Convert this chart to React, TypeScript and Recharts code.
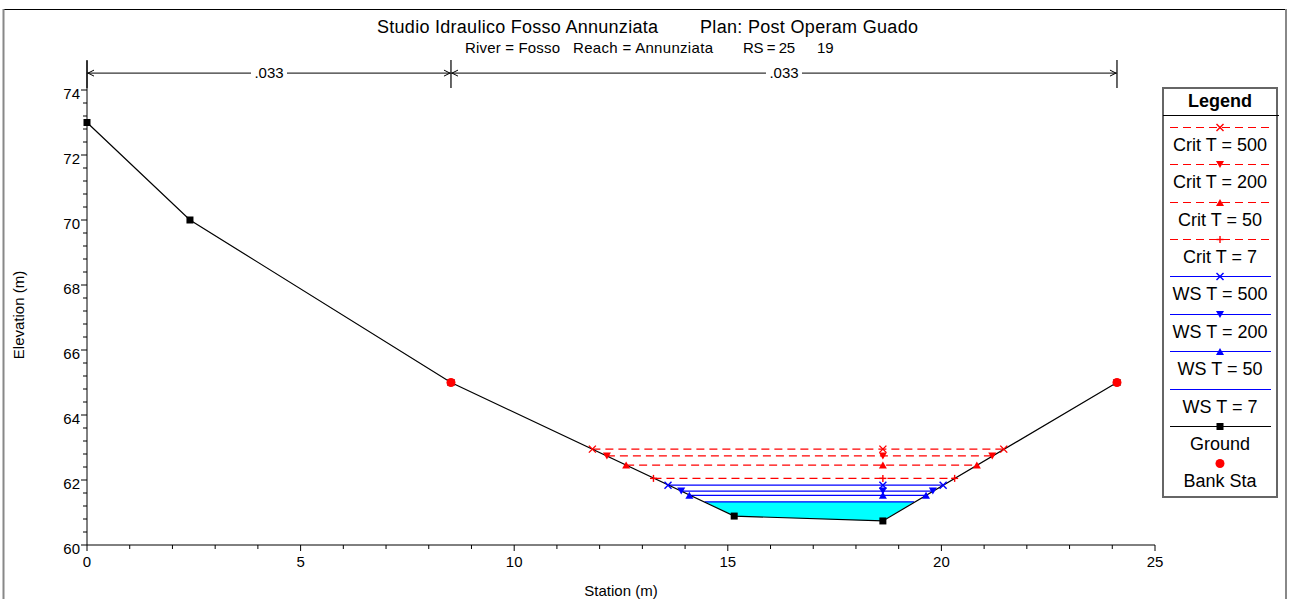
import React from 'react';
import { ComposedChart, Line, Area, XAxis, YAxis, ReferenceLine } from 'recharts';

// ground profile (station m, elevation m)
const groundStation = [0, 2.41, 8.52, 15.15, 18.63, 24.11];
const groundElevation = [73.0, 70.0, 65.0, 60.89, 60.74, 65.0];
const bankStation = [8.52, 24.11];
const bankElevation = [65.0, 65.0];

// water surface profiles
const profileNames = ['Crit T = 500', 'Crit T = 200', 'Crit T = 50', 'Crit T = 7', 'WS T = 500', 'WS T = 200', 'WS T = 50', 'WS T = 7'];
const profileElevation = [62.95, 62.74, 62.46, 62.05, 61.84, 61.66, 61.53, 61.33];
const profileLeft = [11.83, 12.17, 12.62, 13.26, 13.6, 13.91, 14.1, 14.46];
const profileRight = [21.46, 21.19, 20.83, 20.31, 20.04, 19.8, 19.64, 19.36];
const profileMarker = ['x', 'down', 'up', 'plus', 'x', 'down', 'up', 'none'];
const profileIsCrit = [true, true, true, true, false, false, false, false];
const profileMidStation = 18.63;

// manning n values along top
const nLabels = ['.033', '.033'];
const nBreaks = [0, 8.52, 24.11];

const xMajorTicks = [0, 5, 10, 15, 20, 25];
const yMajorTicks = [60, 62, 64, 66, 68, 70, 72, 74];

const xTicks = Array.from({ length: 26 }, (_, i) => i);
const yTicks = Array.from({ length: 36 }, (_, i) => Math.round((60 + i * 0.4) * 10) / 10);

const RED = '#ff0000';
const BLUE = '#0000ff';
const CYAN = '#00ffff';
const FONT = '"Liberation Sans", Arial, sans-serif';

const PLOT_LEFT = 87;
const PLOT_BOTTOM = 545;

const groundData = groundStation.map((x, i) => ({ x, y: groundElevation[i] }));
const bankData = bankStation.map((x, i) => ({ x, y: bankElevation[i] }));

const wsIdx = 7;
const wetData = [
  { x: profileLeft[wsIdx], range: [profileElevation[wsIdx], profileElevation[wsIdx]] },
  ...groundStation
    .map((x, i) => ({ x, range: [groundElevation[i], profileElevation[wsIdx]] }))
    .filter((d) => d.x > profileLeft[wsIdx] && d.x < profileRight[wsIdx]),
  { x: profileRight[wsIdx], range: [profileElevation[wsIdx], profileElevation[wsIdx]] },
];

function Marker({ kind, cx, cy, color }: any) {
  const s = 3.5;
  if (kind === 'x')
    return (
      <g stroke={color} strokeWidth={1.4}>
        <line x1={cx - s} y1={cy - s} x2={cx + s} y2={cy + s} />
        <line x1={cx - s} y1={cy + s} x2={cx + s} y2={cy - s} />
      </g>
    );
  if (kind === 'plus')
    return (
      <g stroke={color} strokeWidth={1.4}>
        <line x1={cx - s} y1={cy} x2={cx + s} y2={cy} />
        <line x1={cx} y1={cy - s} x2={cx} y2={cy + s} />
      </g>
    );
  if (kind === 'down')
    return <polygon points={`${cx - 4},${cy - 3.5} ${cx + 4},${cy - 3.5} ${cx},${cy + 3.5}`} fill={color} />;
  if (kind === 'up')
    return <polygon points={`${cx - 4},${cy + 3.5} ${cx + 4},${cy + 3.5} ${cx},${cy - 3.5}`} fill={color} />;
  if (kind === 'square') return <rect x={cx - 3.5} y={cy - 3.5} width={7} height={7} fill={color} />;
  if (kind === 'circle') return <circle cx={cx} cy={cy} r={4.5} fill={color} />;
  return <g />;
}

const XTick = (p: any) => {
  const v = p.payload.value;
  const major = xMajorTicks.includes(v);
  return (
    <g>
      <line x1={p.x} y1={PLOT_BOTTOM} x2={p.x} y2={PLOT_BOTTOM + (major ? 6 : 4)} stroke="#000" />
      {major && (
        <text x={p.x} y={PLOT_BOTTOM + 22} textAnchor="middle" fontSize={15} fill="#000" fontFamily={FONT}>
          {v}
        </text>
      )}
    </g>
  );
};

const YTick = (p: any) => {
  const v = p.payload.value;
  const major = yMajorTicks.includes(v);
  return (
    <g>
      <line x1={PLOT_LEFT - (major ? 6 : 4)} y1={p.y} x2={PLOT_LEFT} y2={p.y} stroke="#000" />
      {major && (
        <text x={PLOT_LEFT - 7} y={p.y + 8.5} textAnchor="end" fontSize={15} fill="#000" fontFamily={FONT}>
          {v}
        </text>
      )}
    </g>
  );
};

const nArrowShape = (label: string) => (p: any) => {
  const { x1, y1, x2 } = p;
  const mid = (x1 + x2) / 2;
  return (
    <g stroke="#000" strokeWidth={1} fill="none">
      <line x1={x1} y1={y1} x2={x2} y2={y1} />
      <polyline points={`${x1 + 7},${y1 - 3} ${x1 + 1},${y1} ${x1 + 7},${y1 + 3}`} />
      <polyline points={`${x2 - 7},${y1 - 3} ${x2 - 1},${y1} ${x2 - 7},${y1 + 3}`} />
      <rect x={mid - 18} y={y1 - 8} width={36} height={16} fill="#fff" stroke="none" />
      <text x={mid} y={y1 + 5} textAnchor="middle" fontSize={15} stroke="none" fill="#000" fontFamily={FONT}>
        {label}
      </text>
    </g>
  );
};

const legendItems = [
  ...profileNames.map((name, i) => ({
    name,
    color: profileIsCrit[i] ? RED : BLUE,
    dash: profileIsCrit[i] ? '8 5' : undefined,
    marker: profileMarker[i],
    line: true,
  })),
  { name: 'Ground', color: '#000', dash: undefined, marker: 'square', line: true },
  { name: 'Bank Sta', color: RED, dash: undefined, marker: 'circle', line: false },
];

function LegendBox() {
  return (
    <g fontFamily={FONT}>
      <rect x={1163} y={88} width={114} height={409} fill="#fff" stroke="#666" strokeWidth={2} />
      <text x={1220} y={106.5} textAnchor="middle" fontSize={18} fontWeight="bold" fill="#000">
        Legend
      </text>
      <line x1={1163} y1={115.5} x2={1279} y2={115.5} stroke="#000" />
      {legendItems.map((it, i) => {
        const y = Math.round(126.7 + i * 37.4) + 0.5;
        return (
          <g key={it.name}>
            {it.line && <line x1={1170} y1={y} x2={1271} y2={y} stroke={it.color} strokeWidth={1.2} strokeDasharray={it.dash} />}
            <Marker kind={it.marker} cx={1220} cy={y} color={it.color} />
            <text x={1220} y={y + 23} textAnchor="middle" fontSize={18} fill="#000">
              {it.name}
            </text>
          </g>
        );
      })}
    </g>
  );
}

export default function App() {
  return (
    <div style={{ position: 'absolute', left: 0, top: 0, width: 1289, height: 599, background: '#fff', fontFamily: FONT }}>
      <ComposedChart width={1289} height={599} margin={{ top: 60.75, right: 134, bottom: 24, left: 27 }}>
        <XAxis
          type="number"
          dataKey="x"
          domain={[0, 25]}
          ticks={xTicks}
          interval={0}
          tickLine={false}
          axisLine={{ stroke: '#000' }}
          tick={XTick}
          height={30}
        />
        <YAxis
          type="number"
          domain={[60, 74.9]}
          ticks={yTicks}
          interval={0}
          tickLine={false}
          axisLine={{ stroke: '#000' }}
          tick={YTick}
          width={60}
        />
        <Area data={wetData} dataKey="range" type="linear" stroke="none" fill={CYAN} fillOpacity={1} isAnimationActive={false} />
        {profileNames
          .map((name, i) => i)
          .reverse()
          .map((i) => (
            <Line
              key={profileNames[i]}
              data={[
                { x: profileLeft[i], y: profileElevation[i] },
                { x: profileMidStation, y: profileElevation[i] },
                { x: profileRight[i], y: profileElevation[i] },
              ]}
              dataKey="y"
              type="linear"
              stroke={profileIsCrit[i] ? RED : BLUE}
              strokeWidth={1.2}
              strokeDasharray={profileIsCrit[i] ? '8 5' : undefined}
              dot={
                profileMarker[i] === 'none'
                  ? false
                  : (p: any) => <Marker key={p.index} kind={profileMarker[i]} cx={p.cx} cy={p.cy} color={profileIsCrit[i] ? RED : BLUE} />
              }
              activeDot={false}
              isAnimationActive={false}
            />
          ))}
        <Line
          data={groundData}
          dataKey="y"
          type="linear"
          stroke="#000"
          strokeWidth={1.2}
          dot={(p: any) => <Marker key={p.index} kind="square" cx={p.cx} cy={p.cy} color="#000" />}
          activeDot={false}
          isAnimationActive={false}
        />
        <Line
          data={bankData}
          dataKey="y"
          type="linear"
          stroke="none"
          dot={(p: any) => <Marker key={p.index} kind="circle" cx={p.cx} cy={p.cy} color={RED} />}
          activeDot={false}
          isAnimationActive={false}
        />
        {nLabels.map((label, i) => (
          <ReferenceLine
            key={'n' + i}
            segment={[
              { x: nBreaks[i], y: 74.52 },
              { x: nBreaks[i + 1], y: 74.52 },
            ]}
            ifOverflow="visible"
            shape={nArrowShape(label)}
          />
        ))}
        {nBreaks.map((b, i) => (
          <ReferenceLine
            key={'b' + i}
            segment={[
              { x: b, y: 74.06 },
              { x: b, y: 74.92 },
            ]}
            ifOverflow="visible"
            stroke="#000"
            strokeWidth={1.2}
          />
        ))}
      </ComposedChart>
      <svg width={1289} height={599} style={{ position: 'absolute', left: 0, top: 0, pointerEvents: 'none' }}>
        <line x1={3} y1={9.5} x2={1287} y2={9.5} stroke="#000" />
        <line x1={3.5} y1={9} x2={3.5} y2={599} stroke="#888" strokeWidth={2} />
        <line x1={1286} y1={9} x2={1286} y2={599} stroke="#888" strokeWidth={2} />
        <g fontFamily={FONT} fill="#000">
          <text x={377} y={32.5} fontSize={18} textLength={281} lengthAdjust="spacing">
            Studio Idraulico Fosso Annunziata
          </text>
          <text x={700} y={32.5} fontSize={18} textLength={218} lengthAdjust="spacing">
            Plan: Post Operam Guado
          </text>
          <text x={465} y={52.5} fontSize={15} textLength={95} lengthAdjust="spacing">
            River = Fosso
          </text>
          <text x={573} y={52.5} fontSize={15} textLength={140} lengthAdjust="spacing">
            Reach = Annunziata
          </text>
          <text x={743} y={52.5} fontSize={15} textLength={52} lengthAdjust="spacing">
            RS = 25
          </text>
          <text x={817} y={52.5} fontSize={15}>
            19
          </text>
          <text x={621} y={596} fontSize={15} textAnchor="middle">
            Station (m)
          </text>
          <text transform="translate(24,315) rotate(-90)" fontSize={15} textAnchor="middle">
            Elevation (m)
          </text>
        </g>
        <LegendBox />
      </svg>
    </div>
  );
}
